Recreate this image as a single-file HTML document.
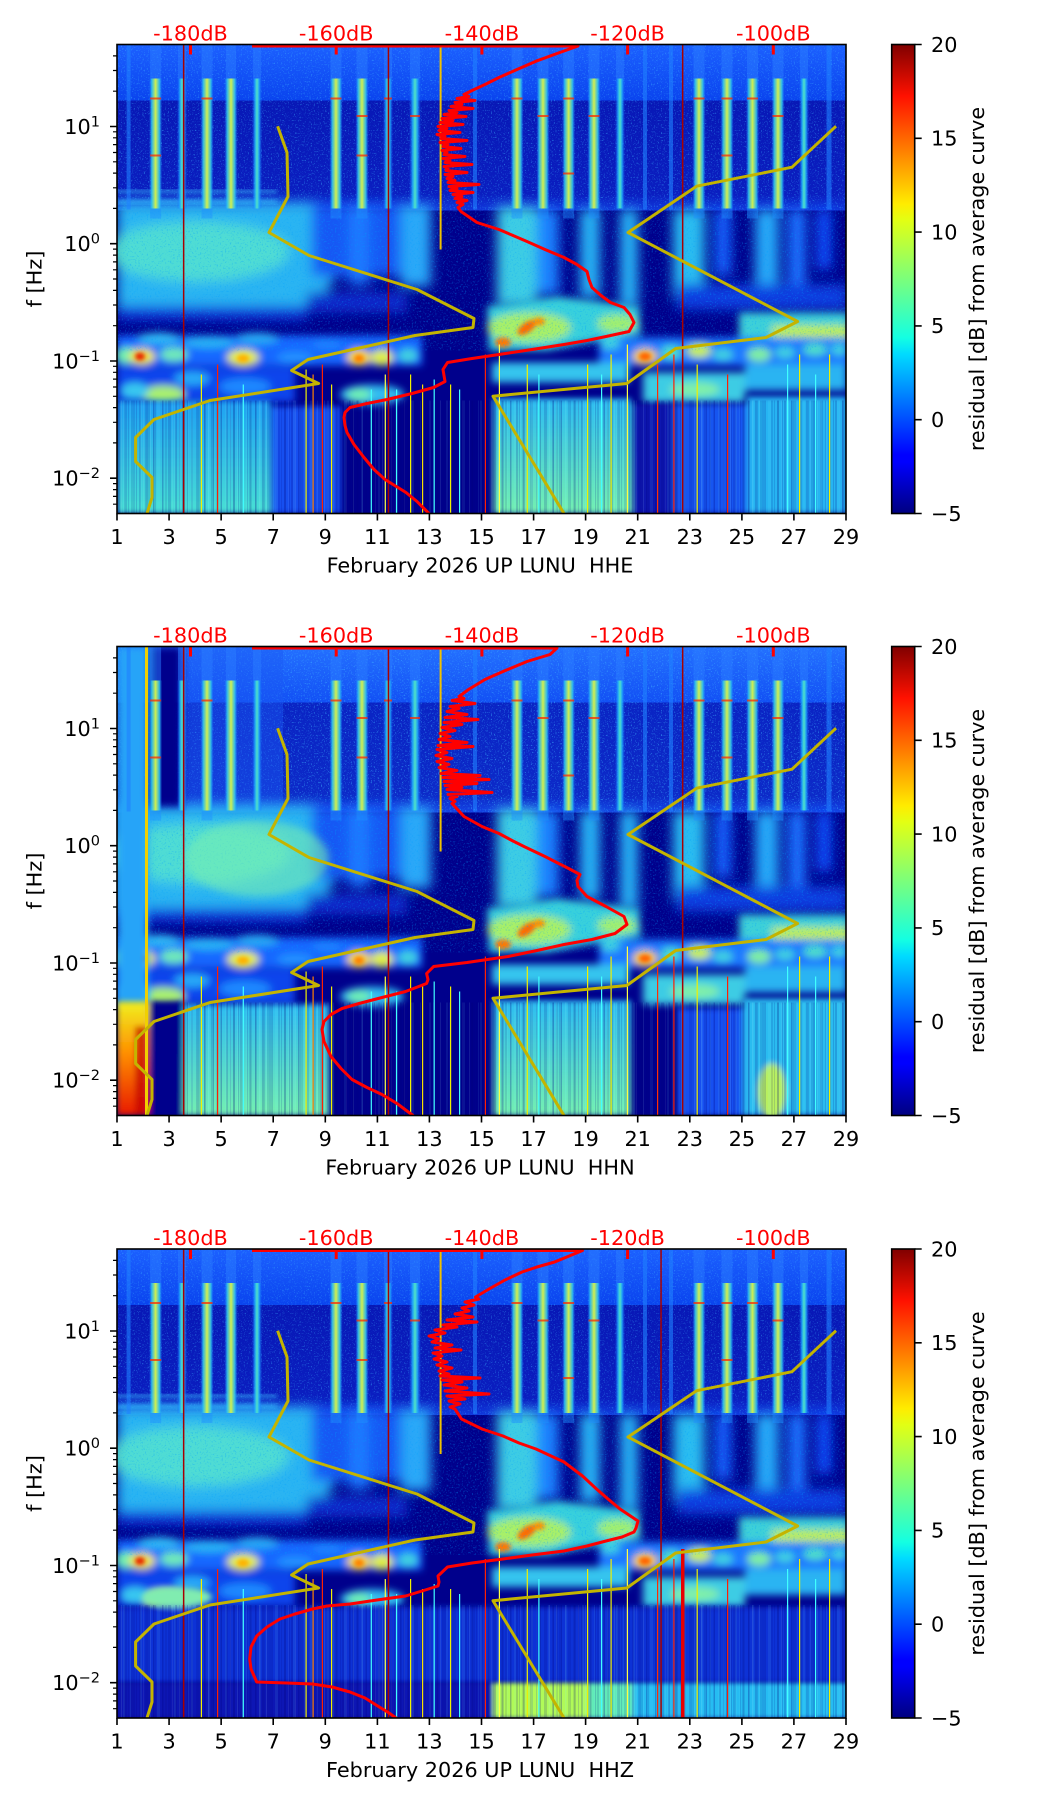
<!DOCTYPE html>
<html><head><meta charset="utf-8">
<style>
html,body{margin:0;padding:0;background:#fff;}
svg{display:block;}
text{font-family:"DejaVu Sans","Liberation Sans",sans-serif;font-size:20.8px;fill:#000;}
.rd{fill:#ff0000;}
</style></head><body>
<svg width="1052" height="1806" viewBox="0 0 1052 1806" xmlns="http://www.w3.org/2000/svg">
<defs>
<linearGradient id="jet" x1="0" y1="1" x2="0" y2="0">
<stop offset="0" stop-color="#000080"/><stop offset=".11" stop-color="#0000ff"/><stop offset=".125" stop-color="#0000ff"/><stop offset=".34" stop-color="#00dbff"/><stop offset=".375" stop-color="#14ffe2"/><stop offset=".5" stop-color="#7bff7b"/><stop offset=".625" stop-color="#e2ff14"/><stop offset=".66" stop-color="#ffec00"/><stop offset=".75" stop-color="#ff9600"/><stop offset=".89" stop-color="#ff1100"/><stop offset="1" stop-color="#800000"/>
</linearGradient>
<linearGradient id="hf1" x1="0" y1="0" x2="0" y2="1"><stop offset="0" stop-color="#1c60ff"/><stop offset="1" stop-color="#0a44ee"/></linearGradient>
<linearGradient id="hf2" x1="0" y1="0" x2="0" y2="1"><stop offset="0" stop-color="#0818b6"/><stop offset=".85" stop-color="#0a1ec0"/><stop offset="1" stop-color="#1038dc"/></linearGradient>
<linearGradient id="hf1b" x1="0" y1="0" x2="0" y2="1"><stop offset="0" stop-color="#2470ff"/><stop offset="1" stop-color="#1250f4"/></linearGradient>
<linearGradient id="hf2b" x1="0" y1="0" x2="0" y2="1"><stop offset="0" stop-color="#0a24c4"/><stop offset=".85" stop-color="#0c2ac8"/><stop offset="1" stop-color="#1444e4"/></linearGradient>
<linearGradient id="sY" x1="0" y1="0" x2="1" y2="0"><stop offset="0" stop-color="#1a88ff" stop-opacity="0"/><stop offset=".2" stop-color="#30c4ec" stop-opacity=".9"/><stop offset=".5" stop-color="#d4f04c"/><stop offset=".8" stop-color="#30c4ec" stop-opacity=".9"/><stop offset="1" stop-color="#1a88ff" stop-opacity="0"/></linearGradient>
<linearGradient id="sC" x1="0" y1="0" x2="1" y2="0"><stop offset="0" stop-color="#1464ff" stop-opacity="0"/><stop offset=".3" stop-color="#22b0f8" stop-opacity=".9"/><stop offset=".5" stop-color="#52e2c4"/><stop offset=".7" stop-color="#22b0f8" stop-opacity=".9"/><stop offset="1" stop-color="#1464ff" stop-opacity="0"/></linearGradient>
<linearGradient id="lowA" x1="0" y1="0" x2="0" y2="1"><stop offset="0" stop-color="#1ea0f4"/><stop offset="1" stop-color="#48e0d4"/></linearGradient>
<linearGradient id="lowB" x1="0" y1="0" x2="0" y2="1"><stop offset="0" stop-color="#2cbcf2"/><stop offset="1" stop-color="#74f0b0"/></linearGradient>
<linearGradient id="hot" x1="0" y1="0" x2="0" y2="1"><stop offset="0" stop-color="#f0f020"/><stop offset=".45" stop-color="#ff9000"/><stop offset="1" stop-color="#e81800"/></linearGradient>
<filter id="b2"><feGaussianBlur stdDeviation="2"/></filter>
<filter id="b3"><feGaussianBlur stdDeviation="3"/></filter>
<filter id="b4"><feGaussianBlur stdDeviation="4"/></filter>
<filter id="b6"><feGaussianBlur stdDeviation="6"/></filter>
<filter id="spk" x="0" y="0" width="1" height="1">
<feTurbulence type="fractalNoise" baseFrequency="0.7" numOctaves="2" seed="4" result="n"/>
<feColorMatrix in="n" type="matrix" values="0 0 0 0 0.05  0 0 0 0 0.45  0 0 0 0 1  5 0 0 0 -2.9"/>
</filter>
<filter id="spk2" x="0" y="0" width="1" height="1">
<feTurbulence type="fractalNoise" baseFrequency="0.6" numOctaves="2" seed="9" result="n"/>
<feColorMatrix in="n" type="matrix" values="0 0 0 0 0.0  0 0 0 0 0.35  0 0 0 0 1  5 0 0 0 -2.8"/>
</filter>
<pattern id="stk" width="29" height="10" patternUnits="userSpaceOnUse">
<rect x="0" width="2" height="10" fill="#000080" opacity=".45"/>
<rect x="4" width="1" height="10" fill="#c0ffff" opacity=".25"/>
<rect x="7" width="3" height="10" fill="#000080" opacity=".35"/>
<rect x="13" width="1" height="10" fill="#80ffff" opacity=".2"/>
<rect x="16" width="2" height="10" fill="#000080" opacity=".3"/>
<rect x="22" width="2" height="10" fill="#000080" opacity=".4"/>
<rect x="26" width="1" height="10" fill="#ffffff" opacity=".15"/>
</pattern>
<pattern id="stk2" width="17" height="10" patternUnits="userSpaceOnUse">
<rect x="2" width="1" height="10" fill="#000080" opacity=".4"/>
<rect x="6" width="2" height="10" fill="#80ffff" opacity=".2"/>
<rect x="11" width="1" height="10" fill="#000080" opacity=".35"/>
<rect x="14" width="2" height="10" fill="#000060" opacity=".25"/>
</pattern>
<clipPath id="pc"><rect x="0" y="0" width="729" height="469"/></clipPath>

<g id="mid">
 <g filter="url(#b6)">
  <path d="M0,158 L200,158 L212,175 L222,205 L215,240 L195,262 L120,267 L0,263 Z" fill="#2ab4f2"/>
  <ellipse cx="80" cy="207" rx="92" ry="30" fill="#5ae6cc" opacity=".8"/>
  <rect x="195" y="160" width="95" height="72" fill="#1658f4"/>
  <rect x="232" y="160" width="20" height="80" fill="#1e78ff"/>
  <rect x="284" y="160" width="30" height="82" fill="#2aa8f8"/>
  <rect x="380" y="162" width="40" height="100" fill="#3ccce4"/>
  <rect x="420" y="165" width="22" height="85" fill="#1e80ff"/>
  <rect x="463" y="165" width="20" height="88" fill="#2ab4f4"/>
  <rect x="503" y="165" width="18" height="98" fill="#2ab4f4"/>
  <rect x="556" y="165" width="32" height="88" fill="#2cbcf0"/>
  <rect x="598" y="165" width="16" height="66" fill="#1460ff"/>
  <rect x="638" y="165" width="24" height="88" fill="#28a8f8"/>
  <rect x="671" y="165" width="18" height="76" fill="#1c70ff"/>
  <rect x="700" y="165" width="14" height="60" fill="#1050ff"/>
  <rect x="0" y="262" width="190" height="14" fill="#0c34d8"/>
  <rect x="190" y="248" width="100" height="20" fill="#0a2ccc"/>
  <rect x="560" y="240" width="170" height="25" fill="#0c3ce0"/>
 </g>
 <g filter="url(#b4)">
  <path d="M370,262 L440,252 L522,262 L524,290 L470,298 L430,306 L372,306 Z" fill="#38d0dc"/>
  <ellipse cx="412" cy="283" rx="42" ry="15" fill="#a8f068"/>
  <ellipse cx="500" cy="279" rx="20" ry="9" fill="#a0f070"/>
  <rect x="622" y="268" width="110" height="34" fill="#3cd0d8"/>
  <rect x="655" y="281" width="78" height="17" fill="#c0f048"/>
  <rect x="0" y="291" width="305" height="30" fill="#1468ff"/>
  <rect x="482" y="293" width="250" height="28" fill="#1a78ff"/>
  <ellipse cx="10" cy="311" rx="12" ry="8" fill="#70f0b0"/>
  <ellipse cx="25" cy="312" rx="13" ry="8" fill="#f0e828"/>
  <ellipse cx="57" cy="310" rx="14" ry="7" fill="#70eab8"/>
  <ellipse cx="42" cy="294" rx="22" ry="6" fill="#30b8f4"/>
  <ellipse cx="92" cy="298" rx="26" ry="6" fill="#2cb0f4"/>
  <ellipse cx="140" cy="294" rx="22" ry="6" fill="#2ca8f4"/>
  <ellipse cx="126" cy="313" rx="16" ry="8" fill="#e8f038"/>
  <ellipse cx="178" cy="313" rx="18" ry="6" fill="#2090ff"/>
  <ellipse cx="210" cy="300" rx="15" ry="5" fill="#1c80ff"/>
  <ellipse cx="242" cy="313" rx="12" ry="8" fill="#f8d828"/>
  <ellipse cx="265" cy="313" rx="11" ry="8" fill="#e0f040"/>
  <ellipse cx="291" cy="311" rx="10" ry="7" fill="#40d0e0"/>
  <ellipse cx="493" cy="299" rx="10" ry="6" fill="#40d0e0"/>
  <ellipse cx="528" cy="312" rx="12" ry="8" fill="#f8d028"/>
  <ellipse cx="554" cy="308" rx="10" ry="7" fill="#50e0c8"/>
  <ellipse cx="582" cy="306" rx="12" ry="7" fill="#c8f050"/>
  <ellipse cx="606" cy="310" rx="10" ry="6" fill="#40d0e0"/>
  <ellipse cx="642" cy="310" rx="12" ry="7" fill="#80f0a0"/>
  <ellipse cx="668" cy="308" rx="10" ry="6" fill="#40d0e0"/>
  <ellipse cx="698" cy="305" rx="12" ry="6" fill="#50e0c8"/>
  <ellipse cx="722" cy="305" rx="8" ry="6" fill="#40d0e0"/>
  <rect x="0" y="322" width="178" height="36" fill="#0c44ec"/>
  <ellipse cx="46" cy="350" rx="22" ry="9" fill="#a8f070"/>
  <ellipse cx="18" cy="346" rx="14" ry="8" fill="#38c8f0"/>
  <ellipse cx="75" cy="334" rx="18" ry="7" fill="#28a8f8"/>
  <ellipse cx="128" cy="342" rx="26" ry="8" fill="#1c88ff"/>
  <ellipse cx="255" cy="350" rx="32" ry="10" fill="#30bcf0"/>
  <ellipse cx="242" cy="350" rx="12" ry="6" fill="#70f0b0"/>
  <rect x="375" y="318" width="137" height="20" fill="#34c4ee"/>
  <rect x="526" y="328" width="102" height="30" fill="#3ccce4"/>
  <ellipse cx="578" cy="345" rx="25" ry="7" fill="#80f0a8"/>
  <rect x="628" y="320" width="102" height="26" fill="#2cb4f2"/>
 </g>
 <g filter="url(#b2)">
  <ellipse cx="23" cy="312" rx="5" ry="4" fill="#e82000"/>
  <ellipse cx="528" cy="312" rx="6" ry="4" fill="#ff6000"/>
  <ellipse cx="242" cy="314" rx="5" ry="4" fill="#ff8000"/>
  <ellipse cx="126" cy="314" rx="6" ry="4" fill="#ffb000"/>
  <ellipse cx="410" cy="283" rx="11" ry="5" fill="#ff6a00" transform="rotate(-35 410 283)"/>
  <ellipse cx="386" cy="298" rx="8" ry="5" fill="#ff7800"/>
  <ellipse cx="422" cy="277" rx="6" ry="4" fill="#ff9000"/>
 </g>
 <rect x="0" y="166" width="729" height="140" filter="url(#spk2)" opacity=".35"/>
</g>

<g id="stripes">
 <g fill="#2a7cff" opacity=".5">
  <rect x="33.1" y="0" width="11" height="34"/><rect x="84.5" y="0" width="11" height="34"/><rect x="109" y="0" width="10" height="34"/><rect x="213.5" y="0" width="11" height="34"/><rect x="239.5" y="0" width="11" height="34"/><rect x="394.5" y="0" width="11" height="34"/><rect x="420.5" y="0" width="11" height="34"/><rect x="446.1" y="0" width="11" height="34"/><rect x="471.5" y="0" width="11" height="34"/><rect x="576.5" y="0" width="11" height="34"/><rect x="604.5" y="0" width="11" height="34"/><rect x="630" y="0" width="11" height="34"/><rect x="655.5" y="0" width="11" height="34"/>
  <rect x="61" y="0" width="8" height="34"/><rect x="136" y="0" width="8" height="34"/><rect x="267" y="0" width="8" height="34"/><rect x="293" y="0" width="10" height="34"/><rect x="499" y="0" width="8" height="34"/><rect x="683" y="0" width="8" height="34"/>
 </g>
 <g fill="#2080ff" opacity=".6">
  <rect x="9.6" y="0" width="4" height="165"/><rect x="356" y="0" width="4" height="165"/><rect x="526" y="0" width="4" height="165"/><rect x="552" y="0" width="4" height="165"/><rect x="709.5" y="0" width="5" height="165"/>
 </g>
 <g fill="url(#sY)">
  <rect x="32.1" y="34" width="13" height="130"/><rect x="83.5" y="34" width="13" height="130"/><rect x="107.5" y="34" width="13" height="130"/><rect x="212.5" y="34" width="13" height="130"/><rect x="238.5" y="34" width="13" height="130"/><rect x="393.5" y="34" width="13" height="130"/><rect x="419.5" y="34" width="13" height="130"/><rect x="445.1" y="34" width="13" height="130"/><rect x="470.5" y="34" width="13" height="130"/><rect x="575.5" y="34" width="13" height="130"/><rect x="603.5" y="34" width="13" height="130"/><rect x="629" y="34" width="13" height="130"/><rect x="654.5" y="34" width="13" height="130"/>
 </g>
 <g fill="url(#sC)">
  <rect x="60" y="34" width="10" height="130"/><rect x="135" y="34" width="10" height="130"/><rect x="266" y="34" width="10" height="130"/><rect x="292" y="34" width="12" height="130"/><rect x="498" y="34" width="10" height="130"/><rect x="682" y="34" width="10" height="130"/>
 </g>
 <g fill="#2090ff" opacity=".45">
  <rect x="33.1" y="164" width="11" height="10"/><rect x="84.5" y="164" width="11" height="10"/><rect x="213.5" y="164" width="11" height="10"/><rect x="239.5" y="164" width="11" height="10"/><rect x="394.5" y="164" width="11" height="10"/><rect x="420.5" y="164" width="11" height="10"/><rect x="446.1" y="164" width="11" height="10"/><rect x="471.5" y="164" width="11" height="10"/><rect x="576.5" y="164" width="11" height="10"/><rect x="604.5" y="164" width="11" height="10"/><rect x="630" y="164" width="11" height="10"/><rect x="655.5" y="164" width="11" height="10"/>
 </g>
 <g fill="#ff2a00" opacity=".75">
  <rect x="33.1" y="53" width="11" height="2"/><rect x="84.5" y="53" width="11" height="2"/><rect x="213.5" y="53" width="11" height="2"/><rect x="239.5" y="70.5" width="11" height="2"/><rect x="267" y="53" width="8" height="2"/><rect x="293" y="70.5" width="10" height="2"/><rect x="394.5" y="53" width="11" height="2"/><rect x="420.5" y="70.5" width="11" height="2"/><rect x="446.1" y="53" width="11" height="2"/><rect x="471.5" y="70.5" width="11" height="2"/><rect x="576.5" y="53" width="11" height="2"/><rect x="604.5" y="53" width="11" height="2"/><rect x="630" y="53" width="11" height="2"/><rect x="655.5" y="70.5" width="11" height="2"/><rect x="33.1" y="110" width="11" height="2"/><rect x="239.5" y="110" width="11" height="2"/><rect x="446.1" y="128" width="11" height="2"/><rect x="604.5" y="110" width="11" height="2"/>
 </g>
 <rect x="322.6" y="0" width="2" height="205" fill="#f0c000"/>
</g>

<g id="tr">
 <rect x="83.8" y="330" width="1.2" height="139" fill="#f0f000"/>
 <rect x="100" y="320" width="1.2" height="149" fill="#ff2000"/>
 <rect x="125.7" y="340" width="1.2" height="129" fill="#40ffff"/>
 <rect x="188.5" y="325" width="1.2" height="144" fill="#f0f000"/>
 <rect x="195.5" y="330" width="1.2" height="139" fill="#ff8000"/>
 <rect x="204.8" y="320" width="1.2" height="149" fill="#ff2000"/>
 <rect x="214" y="340" width="1.2" height="129" fill="#f0f000"/>
 <rect x="253.7" y="345" width="1.2" height="124" fill="#40ffff"/>
 <rect x="267.7" y="330" width="1.2" height="139" fill="#ffff40"/>
 <rect x="279" y="345" width="1.2" height="124" fill="#40ffff"/>
 <rect x="293" y="330" width="1.2" height="139" fill="#f0f000"/>
 <rect x="305" y="340" width="1.2" height="129" fill="#f8e000"/>
 <rect x="316.6" y="335" width="1.2" height="134" fill="#40ffff"/>
 <rect x="333" y="340" width="1.2" height="129" fill="#f0f000"/>
 <rect x="342" y="345" width="1.2" height="124" fill="#40ffff"/>
 <rect x="367.8" y="310" width="1.2" height="159" fill="#ff2000"/>
 <rect x="381.8" y="300" width="1.2" height="169" fill="#ffff40"/>
 <rect x="409.7" y="320" width="1.2" height="149" fill="#f0f000"/>
 <rect x="421.3" y="330" width="1.2" height="139" fill="#40ffff"/>
 <rect x="470" y="320" width="1.2" height="149" fill="#f0f000"/>
 <rect x="484" y="330" width="1.2" height="139" fill="#40ffff"/>
 <rect x="493.5" y="310" width="1.2" height="159" fill="#f0f000"/>
 <rect x="509.8" y="300" width="1.2" height="169" fill="#ffff40"/>
 <rect x="540" y="320" width="1.2" height="149" fill="#ff3000"/>
 <rect x="556.3" y="310" width="1.2" height="159" fill="#ff2000"/>
 <rect x="579.6" y="320" width="1.2" height="149" fill="#f0f000"/>
 <rect x="610" y="330" width="1.2" height="139" fill="#ff2000"/>
 <rect x="670" y="320" width="1.2" height="149" fill="#40ffff"/>
 <rect x="682" y="310" width="1.2" height="159" fill="#f0f000"/>
 <rect x="698" y="330" width="1.2" height="139" fill="#40ffff"/>
 <rect x="712" y="310" width="1.2" height="159" fill="#f0f000"/>
</g>

<g id="yel" fill="none" stroke="#c4b400" stroke-width="3" stroke-linejoin="round">
 <polyline points="160.6,81.7 170,108 171,152 152,188 192,211 300,245 357,274 356,283 298,291 191,315 174.6,326 201.6,339 93,356 37,375 18.6,393 18.6,417 35,433 35,453 30,469 29,473"/>
 <polyline points="719,81.7 675,122.7 579.6,141.7 511,188 680.6,277 649,293 558.7,304 509.8,339 376,351.7 447,469 449,473"/>
</g>

<g id="rt" fill="#ff0000">
 <rect x="72" y="0" width="3" height="10"/><rect x="217.7" y="0" width="3" height="10"/><rect x="363.4" y="0" width="3" height="10"/><rect x="509.1" y="0" width="3" height="10"/><rect x="654.8" y="0" width="3" height="10"/>
</g>

<g id="ax" stroke="#000" fill="none">
 <rect x="0" y="0" width="729" height="469" stroke-width="1.6"/>
 <path stroke-width="1.6" d="M0,469v7M52.07,469v7M104.14,469v7M156.2,469v7M208.3,469v7M260.4,469v7M312.4,469v7M364.5,469v7M416.6,469v7M468.6,469v7M520.7,469v7M572.8,469v7M624.9,469v7M676.9,469v7M729,469v7M0,82h-7M0,199.2h-7M0,316.5h-7M0,433.7h-7"/>
 <path stroke-width="1.2" d="M0,46.7h-4M0,26h-4M0,11.4h-4M0,163.9h-4M0,143.3h-4M0,128.6h-4M0,117.3h-4M0,108h-4M0,100.1h-4M0,93.3h-4M0,87.3h-4M0,281.2h-4M0,260.5h-4M0,245.9h-4M0,234.5h-4M0,225.3h-4M0,217.4h-4M0,210.6h-4M0,204.6h-4M0,398.4h-4M0,377.8h-4M0,363.1h-4M0,351.8h-4M0,342.5h-4M0,334.6h-4M0,327.8h-4M0,321.8h-4M0,459.7h-4M0,451.9h-4M0,445.1h-4M0,439.1h-4"/>
 <rect x="774.7" y="0" width="23" height="469" fill="url(#jet)" stroke-width="1.6"/>
 <path stroke-width="1.6" d="M797.7,0h7M797.7,93.8h7M797.7,187.6h7M797.7,281.4h7M797.7,375.2h7M797.7,469h7"/>
</g>
</defs>

<!-- ================= PANEL 1 ================= -->
<g transform="translate(117,44.5)">
 <g clip-path="url(#pc)">
  <rect width="729" height="469" fill="#00008c"/>
  <rect width="729" height="56" fill="url(#hf1)"/>
  <rect y="56" width="729" height="110" fill="url(#hf2)"/>
  <rect width="729" height="166" filter="url(#spk)" opacity=".5"/>
  <g filter="url(#b2)"><rect x="0" y="146" width="160" height="2" fill="#40c8ff"/><rect x="0" y="156" width="160" height="3" fill="#38b8ff"/></g>
  <use href="#mid"/>
  <g filter="url(#b3)">
   <rect x="0" y="356" width="154" height="113" fill="url(#lowA)"/>
   <rect x="154" y="362" width="70" height="107" fill="#1450f0"/>
   <rect x="376" y="354" width="138" height="115" fill="url(#lowB)"/>
   <rect x="514" y="360" width="42" height="109" fill="#0818b0"/>
   <rect x="556" y="360" width="74" height="109" fill="#1454f0"/>
   <rect x="630" y="352" width="100" height="117" fill="#26b4f2"/>
  </g>
  <rect y="356" width="729" height="113" fill="url(#stk)" opacity=".4"/>
  <rect y="356" width="729" height="113" fill="url(#stk2)" opacity=".4"/>
  <use href="#stripes"/>
  <use href="#tr"/>
  <g fill="#a80000"><rect x="65.9" y="0" width="1.5" height="469"/><rect x="270.7" y="0" width="1.5" height="469"/><rect x="564.9" y="0" width="1.5" height="469"/></g>
  <use href="#yel"/>
  <path fill="none" stroke="#ff0000" stroke-width="3" stroke-linejoin="round" d="M135,1.5 L461,1.5 L440,9 L419,16.7 L400,25 L382,33 L368,40 L355,46 L347,50 L352,52 L340,54 L358,56 L338,58 L345,60 L334,62 L356,64 L332,66 L340,68 L327,70 L349,72 L325,74 L336,76 L323,78 L346,80 L321,82 L330,84 L322,86 L343,88 L320,90 L328,92 L324,94 L350,96 L323,98 L331,100 L326,102 L344,104 L325,106 L330,108 L327,110 L348,112 L326,114 L333,116 L328,118 L355,120 L327,122 L331,124 L329,126 L350,128 L328,130 L336,132 L330,134 L338,136 L331,138 L362,140 L332,142 L340,144 L333,146 L356,148 L336,150 L345,152 L338,154 L350,156 L340,158 L346,160 L341,163 L344,167 L360,178 L382,185 L396,191 L410,197 L428,205 L447,213 L460,220 L470,227 L472,235 L475,243 L484,251 L493.5,258 L507,263 L513,270 L517,278 L512,287 L489,292 L470,296 L447,300 L415,305 L382,310 L355,314 L330.5,318 L326,325 L328,337 L316.6,343 L295,349 L270,355 L250,359 L233,363 L228,368 L227,373 L228,381 L230,388 L237,400 L247,413 L257,425 L268,435 L289,448 L300,457 L312,469 L315,473"/>
  <use href="#rt"/>
 </g>
 <use href="#ax"/>
 <g text-anchor="middle">
  <text x="0" y="499.5">1</text><text x="52.07" y="499.5">3</text><text x="104.14" y="499.5">5</text><text x="156.2" y="499.5">7</text><text x="208.3" y="499.5">9</text><text x="260.4" y="499.5">11</text><text x="312.4" y="499.5">13</text><text x="364.5" y="499.5">15</text><text x="416.6" y="499.5">17</text><text x="468.6" y="499.5">19</text><text x="520.7" y="499.5">21</text><text x="572.8" y="499.5">23</text><text x="624.9" y="499.5">25</text><text x="676.9" y="499.5">27</text><text x="729" y="499.5">29</text>
  <text x="363" y="528">February 2026 UP LUNU&#160; HHE</text>
  <text class="rd" x="73.5" y="-4">-180dB</text><text class="rd" x="219.2" y="-4">-160dB</text><text class="rd" x="364.9" y="-4">-140dB</text><text class="rd" x="510.6" y="-4">-120dB</text><text class="rd" x="656.3" y="-4">-100dB</text>
  <text transform="translate(-75.5,234.5) rotate(-90)">f [Hz]</text>
  <text transform="translate(867,234.5) rotate(-90)">residual [dB] from average curve</text>
 </g>
 <g text-anchor="end">
  <text x="-17" y="89.3">10<tspan font-size="14.5" dy="-7.5">1</tspan></text>
  <text x="-17" y="206.5">10<tspan font-size="14.5" dy="-7.5">0</tspan></text>
  <text x="-17" y="323.8">10<tspan font-size="14.5" dy="-7.5">−1</tspan></text>
  <text x="-17" y="441">10<tspan font-size="14.5" dy="-7.5">−2</tspan></text>
 </g>
 <text x="814" y="7.3">20</text><text x="814" y="101.1">15</text><text x="814" y="194.9">10</text><text x="814" y="288.7">5</text><text x="814" y="382.5">0</text><text x="814" y="476.3">−5</text>
</g>

<!-- ================= PANEL 2 ================= -->
<g transform="translate(117,646.5)">
 <g clip-path="url(#pc)">
  <rect width="729" height="469" fill="#00008c"/>
  <rect width="729" height="56" fill="url(#hf1b)"/>
  <rect y="56" width="729" height="110" fill="url(#hf2b)"/>
  <rect width="729" height="166" filter="url(#spk)" opacity=".6"/>
  <rect x="66" y="0" width="100" height="166" fill="#1a58f4" opacity=".45"/>
  <use href="#mid"/>
  <g filter="url(#b4)">
   <ellipse cx="140" cy="212" rx="72" ry="38" fill="#78f0b0" opacity=".6"/>
   <rect x="0" y="0" width="31" height="360" fill="#28a4f8"/>
   <rect x="33" y="0" width="32" height="160" fill="#00008c"/>
  </g>
  <g filter="url(#b3)">
   <rect x="0" y="355" width="32" height="114" fill="url(#hot)"/>
   <rect x="18" y="380" width="13" height="89" fill="#c00000" opacity=".7"/>
   <rect x="32" y="355" width="34" height="114" fill="#00008c"/>
   <rect x="66" y="358" width="146" height="111" fill="url(#lowB)"/>
   <rect x="376" y="354" width="138" height="115" fill="url(#lowB)"/>
   <rect x="560" y="362" width="66" height="107" fill="#1450f0"/>
   <rect x="626" y="352" width="104" height="117" fill="#2cbcf0"/>
   <ellipse cx="655" cy="445" rx="14" ry="28" fill="#b8f060"/>
  </g>
  <rect x="66" y="356" width="663" height="113" fill="url(#stk)" opacity=".4"/>
  <rect x="66" y="356" width="663" height="113" fill="url(#stk2)" opacity=".4"/>
  <use href="#stripes"/>
  <use href="#tr"/>
  <rect x="28" y="0" width="3" height="469" fill="#f0d000"/>
  <g fill="#a80000"><rect x="65.9" y="0" width="1.5" height="469"/><rect x="270.7" y="0" width="1.5" height="469"/><rect x="564.9" y="0" width="1.5" height="469"/></g>
  <use href="#yel"/>
  <path fill="none" stroke="#ff0000" stroke-width="3" stroke-linejoin="round" d="M135,1.5 L440,1.5 L433,8 L410,15 L386,25 L368,33 L351.5,43 L342,50 L347,52 L335,54 L358,57 L333,60 L342,62 L330,65 L350,68 L328,71 L361,73 L327,76 L345,78 L325,81 L338,84 L323,87 L333,90 L322,93 L350,96 L321,99 L356,100 L320,103 L330,106 L319,109 L335,112 L320,115 L332,118 L322,121 L340,124 L324,127 L363,129 L326,131 L372,133 L327,135 L360,137 L328,139 L345,141 L330,143 L375,146 L331,148 L340,150 L333,152 L338,155 L335,157 L347,170 L365,180 L382,187 L395,194 L407,200 L428,210 L451.6,222 L463,228 L460,234 L461,240 L470,250 L489,260 L507,270 L510,278 L498,287 L475,293 L447,298 L420,304 L391,310 L350,316 L316.6,320 L309.6,327 L311,333 L309.6,337 L288.6,345 L265,351 L242,357 L225,362 L214,368 L207,375 L205,383 L207,395 L214,410 L224,422 L235,433 L250,441 L265,448 L280,457 L296,469 L300,473"/>
  <use href="#rt"/>
 </g>
 <use href="#ax"/>
 <g text-anchor="middle">
  <text x="0" y="499.5">1</text><text x="52.07" y="499.5">3</text><text x="104.14" y="499.5">5</text><text x="156.2" y="499.5">7</text><text x="208.3" y="499.5">9</text><text x="260.4" y="499.5">11</text><text x="312.4" y="499.5">13</text><text x="364.5" y="499.5">15</text><text x="416.6" y="499.5">17</text><text x="468.6" y="499.5">19</text><text x="520.7" y="499.5">21</text><text x="572.8" y="499.5">23</text><text x="624.9" y="499.5">25</text><text x="676.9" y="499.5">27</text><text x="729" y="499.5">29</text>
  <text x="363" y="528">February 2026 UP LUNU&#160; HHN</text>
  <text class="rd" x="73.5" y="-4">-180dB</text><text class="rd" x="219.2" y="-4">-160dB</text><text class="rd" x="364.9" y="-4">-140dB</text><text class="rd" x="510.6" y="-4">-120dB</text><text class="rd" x="656.3" y="-4">-100dB</text>
  <text transform="translate(-75.5,234.5) rotate(-90)">f [Hz]</text>
  <text transform="translate(867,234.5) rotate(-90)">residual [dB] from average curve</text>
 </g>
 <g text-anchor="end">
  <text x="-17" y="89.3">10<tspan font-size="14.5" dy="-7.5">1</tspan></text>
  <text x="-17" y="206.5">10<tspan font-size="14.5" dy="-7.5">0</tspan></text>
  <text x="-17" y="323.8">10<tspan font-size="14.5" dy="-7.5">−1</tspan></text>
  <text x="-17" y="441">10<tspan font-size="14.5" dy="-7.5">−2</tspan></text>
 </g>
 <text x="814" y="7.3">20</text><text x="814" y="101.1">15</text><text x="814" y="194.9">10</text><text x="814" y="288.7">5</text><text x="814" y="382.5">0</text><text x="814" y="476.3">−5</text>
</g>

<!-- ================= PANEL 3 ================= -->
<g transform="translate(117,1249)">
 <g clip-path="url(#pc)">
  <rect width="729" height="469" fill="#00008c"/>
  <rect width="729" height="56" fill="url(#hf1)"/>
  <rect y="56" width="729" height="110" fill="url(#hf2)"/>
  <rect width="729" height="166" filter="url(#spk)" opacity=".45"/>
  <g filter="url(#b2)"><rect x="0" y="146" width="160" height="2" fill="#40c8ff"/><rect x="0" y="156" width="160" height="3" fill="#38b8ff"/></g>
  <use href="#mid"/>
  <g filter="url(#b3)">
   <rect x="0" y="358" width="729" height="76" fill="#0a30d6"/>
   <ellipse cx="60" cy="348" rx="35" ry="10" fill="#80ecb0"/>
  </g>
  <g filter="url(#b2)">
   <rect x="0" y="434" width="376" height="35" fill="#0818b4"/>
   <rect x="376" y="434" width="95" height="35" fill="#b0fa58"/>
   <rect x="471" y="434" width="45" height="35" fill="#60eab8"/>
   <rect x="516" y="434" width="214" height="35" fill="#26bcf2"/>
  </g>
  <rect y="356" width="729" height="113" fill="url(#stk)" opacity=".4"/>
  <rect y="356" width="729" height="113" fill="url(#stk2)" opacity=".4"/>
  <use href="#stripes"/>
  <use href="#tr"/>
  <rect x="564" y="300" width="3.5" height="169" fill="#e80000"/>
  <g fill="#a80000"><rect x="65.9" y="0" width="1.5" height="469"/><rect x="270.7" y="0" width="1.5" height="469"/><rect x="543.3" y="0" width="1.5" height="469"/></g>
  <use href="#yel"/>
  <path fill="none" stroke="#ff0000" stroke-width="3" stroke-linejoin="round" d="M135,1.5 L465.5,1.5 L437.6,13 L420,18 L405,23 L388,31 L372,40 L358.5,48 L362,50 L348,53 L357,56 L345,59 L352,62 L338,65 L356,68 L330,71 L360,73 L326,76 L340,78 L318,81 L328,84 L312,87 L322,90 L315,93 L335,96 L318,99 L344,101 L316,104 L325,107 L317,110 L330,113 L320,116 L335,119 L322,122 L332,125 L323,127 L363,129 L325,131 L345,133 L327,136 L350,139 L328,142 L372,145 L330,147 L348,150 L332,152 L343,155 L333,158 L338,160 L344.5,170 L365,180 L386,187 L402,194 L419,200 L447,213 L465.5,227 L479.5,240 L491,250 L503,260 L512,266 L521,272 L519,279 L517,283 L505,288 L489,292 L470,297 L447,302 L415,306 L386,310 L355,314 L330.5,318 L321,327 L322,333 L321,337 L305,342 L288.6,347 L260,351 L233,355 L210,357 L195.5,360 L178,365 L163,370 L150,378 L139.7,387 L134,398 L132.7,410 L134,420 L139.7,433 L170,434 L195.5,435 L215,438 L233,443 L248,449 L260.7,457 L272,464 L279,469 L282,473"/>
  <use href="#rt"/>
 </g>
 <use href="#ax"/>
 <g text-anchor="middle">
  <text x="0" y="499.5">1</text><text x="52.07" y="499.5">3</text><text x="104.14" y="499.5">5</text><text x="156.2" y="499.5">7</text><text x="208.3" y="499.5">9</text><text x="260.4" y="499.5">11</text><text x="312.4" y="499.5">13</text><text x="364.5" y="499.5">15</text><text x="416.6" y="499.5">17</text><text x="468.6" y="499.5">19</text><text x="520.7" y="499.5">21</text><text x="572.8" y="499.5">23</text><text x="624.9" y="499.5">25</text><text x="676.9" y="499.5">27</text><text x="729" y="499.5">29</text>
  <text x="363" y="528">February 2026 UP LUNU&#160; HHZ</text>
  <text class="rd" x="73.5" y="-4">-180dB</text><text class="rd" x="219.2" y="-4">-160dB</text><text class="rd" x="364.9" y="-4">-140dB</text><text class="rd" x="510.6" y="-4">-120dB</text><text class="rd" x="656.3" y="-4">-100dB</text>
  <text transform="translate(-75.5,234.5) rotate(-90)">f [Hz]</text>
  <text transform="translate(867,234.5) rotate(-90)">residual [dB] from average curve</text>
 </g>
 <g text-anchor="end">
  <text x="-17" y="89.3">10<tspan font-size="14.5" dy="-7.5">1</tspan></text>
  <text x="-17" y="206.5">10<tspan font-size="14.5" dy="-7.5">0</tspan></text>
  <text x="-17" y="323.8">10<tspan font-size="14.5" dy="-7.5">−1</tspan></text>
  <text x="-17" y="441">10<tspan font-size="14.5" dy="-7.5">−2</tspan></text>
 </g>
 <text x="814" y="7.3">20</text><text x="814" y="101.1">15</text><text x="814" y="194.9">10</text><text x="814" y="288.7">5</text><text x="814" y="382.5">0</text><text x="814" y="476.3">−5</text>
</g>
</svg>
</body></html>
